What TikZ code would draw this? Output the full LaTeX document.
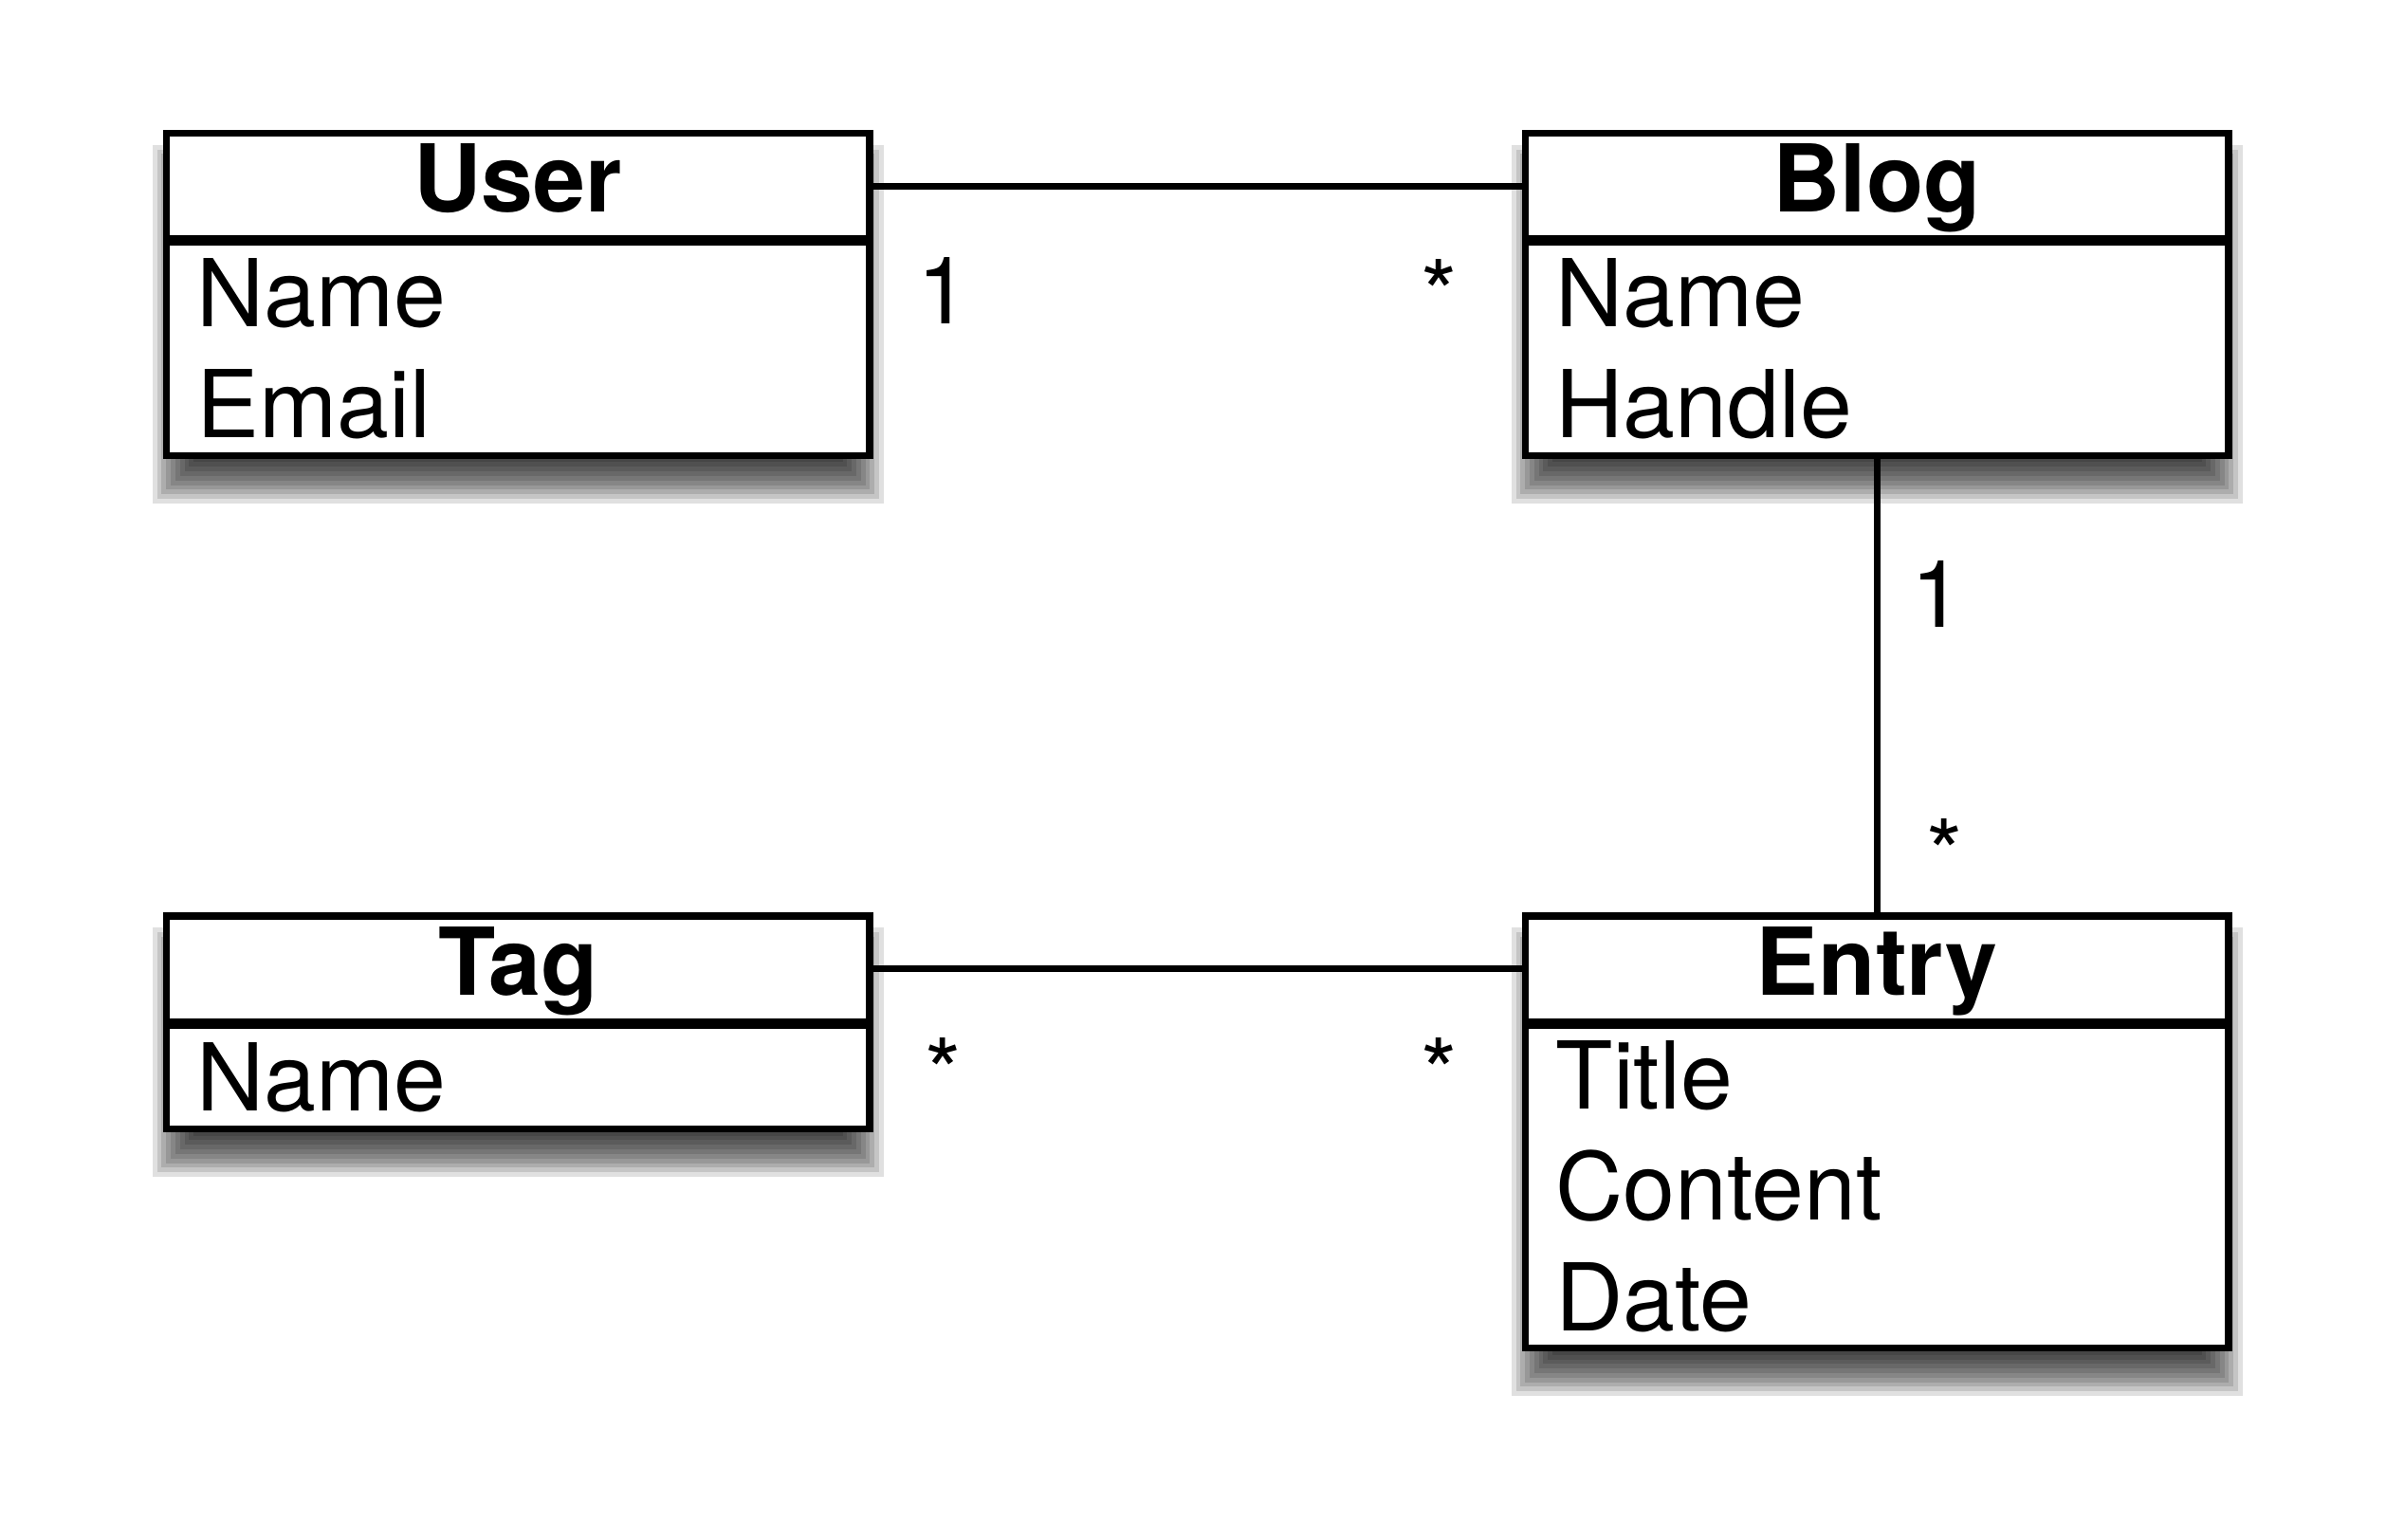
\documentclass[tikz,border=0pt]{standalone}
\usepackage{fontspec}
\setmainfont{TeX Gyre Heros}
\usetikzlibrary{positioning,backgrounds}

\begin{document}
\begin{tikzpicture}
	\tikzset{
		cls/.style={rectangle, draw=black, line width=1.3pt, fill=white, minimum width=4.62cm, minimum height=0.695cm, inner sep=0pt, text height=0.46cm, text depth=0.12cm, font=\fontsize{17.5}{20.8}\selectfont\bfseries},
		attr/.style={rectangle, draw=black, line width=1.3pt, fill=white, minimum width=4.62cm, inner xsep=0.2cm, inner ysep=0pt, text width=4.22cm, align=left, font=\fontsize{17.5}{20.8}\selectfont},
		mult/.style={anchor=base, inner sep=0pt, font=\fontsize{17.5}{20.8}\selectfont},
		assoc/.style={draw=black, line width=1.3pt},
		blur/.style={fill=black, opacity=0.12}
	}

	\useasboundingbox (0,0) rectangle (15.68,-10.12);

	\node[cls] (user) at (3.405, -1.2225) {User};
	\node[attr, below=-0.025cm of user, minimum height=1.404cm] (userattr) {Name\\Email};

	\node[cls] (blog) at (12.335, -1.2225) {Blog};
	\node[attr, below=-0.025cm of blog, minimum height=1.404cm] (blogattr) {Name\\Handle};

	\node[cls] (tag) at (3.405, -6.3675) {Tag};
	\node[attr, below=-0.025cm of tag, minimum height=0.685cm] (tagattr) {Name};

	\node[cls] (entry) at (12.335, -6.3675) {Entry};
	\node[attr, below=-0.025cm of entry, minimum height=2.125cm] (entryattr) {Title\\Content\\Date};

	\draw[assoc] (user) -- (blog);
	\draw[assoc] (blogattr) -- (entry);
	\draw[assoc] (tag) -- (entry);

	\node[mult] (m1) at (6.2, -2.13) {1};
	\node[mult] (m2) at (9.46, -2.15) {*};
	\node[mult] (m3) at (12.73, -4.12) {1};
	\node[mult] (m4) at (12.78, -5.83) {*};
	\node[mult] (m5) at (6.2, -7.27) {*};
	\node[mult] (m6) at (9.46, -7.27) {*};

	\begin{pgfonlayer}{background}
		\foreach \a/\b in {user/userattr, blog/blogattr, tag/tagattr, entry/entryattr}
			\foreach \i in {0,...,9}
				\fill[blur] ([xshift={(0.03*\i-0.07)*1cm}, yshift={(-0.10-0.03*\i)*1cm}]\a.north west) rectangle ([xshift={(0.07-0.03*\i)*1cm}, yshift={(0.03*\i-0.29)*1cm}]\b.south east);
	\end{pgfonlayer}

\end{tikzpicture}
\end{document}
